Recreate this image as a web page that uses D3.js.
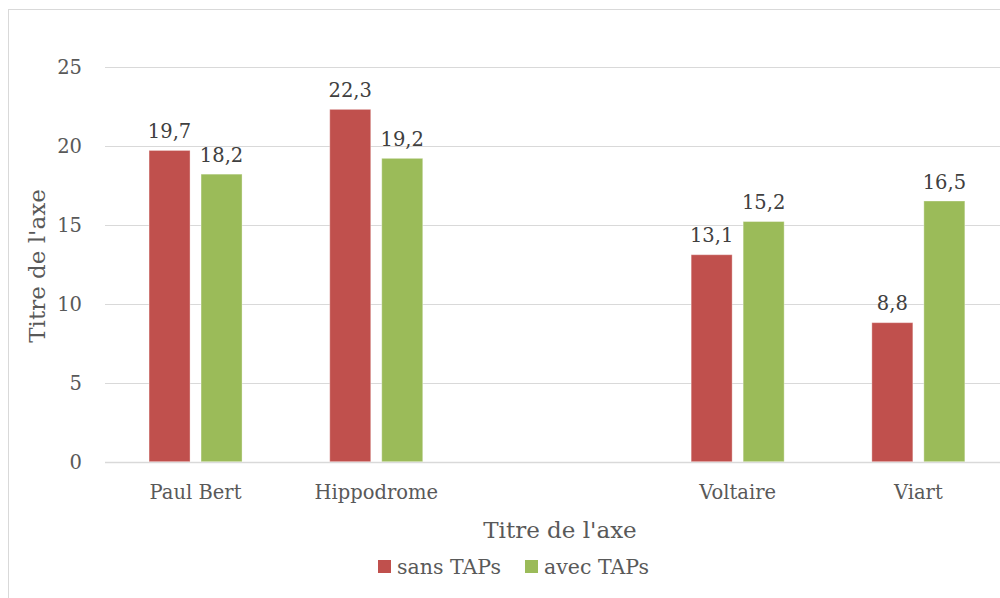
<!DOCTYPE html>
<html><head><meta charset="utf-8">
<script src="https://cdn.jsdelivr.net/npm/d3@7"></script>
<style>body{margin:0;background:#fff}svg{display:block}</style>
</head><body>
<script>
const categories = ["Paul Bert", "Hippodrome", "", "Voltaire", "Viart"];
const seriesNames = ["sans TAPs", "avec TAPs"];
const sansTAPs = [19.7, 22.3, null, 13.1, 8.8];
const avecTAPs = [18.2, 19.2, null, 15.2, 16.5];
const yTicks = [0, 5, 10, 15, 20, 25];
const colors = ["#C0504D", "#9BBB59"];
const axisTitle = "Titre de l'axe";

const W = 1000, H = 598;
const font = "DejaVu Serif";
const txt = "#595959";
const svg = d3.select("body").append("svg").attr("width", W).attr("height", H);

svg.append("rect").attr("x", 8.5).attr("y", 9.5).attr("width", 1100).attr("height", 700)
  .attr("fill", "#fff").attr("stroke", "#d9d9d9").attr("stroke-width", 1);

const x0 = d3.scaleBand().domain(d3.range(categories.length)).range([105.2, 1008.7]);
const y = d3.scaleLinear().domain([0, 25]).range([461.7, 66.7]);
const barW = 41, gap = 11;

// gridlines
svg.append("g").selectAll("line").data(yTicks).join("line")
  .attr("x1", 105).attr("x2", 1010)
  .attr("y1", d => Math.round(y(d)) + 0.5).attr("y2", d => Math.round(y(d)) + 0.5)
  .attr("stroke", "#d9d9d9").attr("stroke-width", d => d === 0 ? 1.5 : 1);

// y tick labels
svg.append("g").selectAll("text").data(yTicks).join("text")
  .attr("x", 82).attr("y", d => y(d)).attr("dy", "0.35em")
  .attr("text-anchor", "end").attr("font-family", font).attr("font-size", 19.5)
  .attr("fill", txt).text(d => d);

const series = [sansTAPs, avecTAPs];
series.forEach((vals, si) => {
  const g = svg.append("g");
  const data = vals.map((v, i) => ({v, i})).filter(d => d.v != null);
  const bx = d => x0(d.i) + x0.bandwidth() / 2 - (barW * 2 + gap) / 2 + si * (barW + gap);
  g.selectAll("rect").data(data).join("rect")
    .attr("x", bx).attr("y", d => y(d.v)).attr("width", barW)
    .attr("height", d => y(0) - y(d.v)).attr("fill", colors[si])
    .attr("stroke", "rgba(255,255,255,0.35)").attr("stroke-width", 1);
  g.selectAll("text").data(data).join("text")
    .attr("x", d => bx(d) + barW / 2).attr("y", d => y(d.v) - 12.5)
    .attr("text-anchor", "middle").attr("font-family", font).attr("font-size", 19.5)
    .attr("fill", "#404040").text(d => String(d.v).replace(".", ","));
});

// category labels
svg.append("g").selectAll("text").data(categories.map((c, i) => ({c, i}))).join("text")
  .attr("x", d => x0(d.i) + x0.bandwidth() / 2).attr("y", 499)
  .attr("text-anchor", "middle").attr("font-family", font).attr("font-size", 19.5)
  .attr("fill", txt).text(d => d.c);

// axis titles
svg.append("text").attr("x", 560).attr("y", 538).attr("text-anchor", "middle")
  .attr("font-family", font).attr("font-size", 23).attr("fill", txt).text(axisTitle);
svg.append("text").attr("transform", "translate(45,266) rotate(-90)").attr("text-anchor", "middle")
  .attr("font-family", font).attr("font-size", 23).attr("fill", txt).text(axisTitle);

// legend
const legX = [378, 525];
const leg = svg.append("g").selectAll("g").data(seriesNames).join("g");
leg.append("rect").attr("x", (d, i) => legX[i]).attr("y", 560).attr("width", 13).attr("height", 13)
  .attr("fill", (d, i) => colors[i]);
leg.append("text").attr("x", (d, i) => legX[i] + 19).attr("y", 574)
  .attr("font-family", font).attr("font-size", 20.5).attr("fill", txt).text(d => d);
</script>
</body></html>
